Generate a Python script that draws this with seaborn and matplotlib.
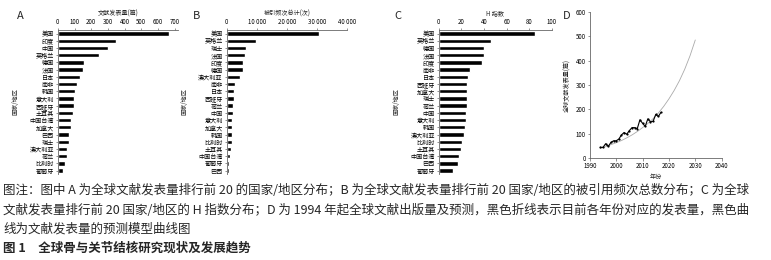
import matplotlib
matplotlib.use('Agg')
import pandas as pd
import matplotlib.pyplot as plt
import seaborn as sns

sns.set_theme(style='white')
plt.rcParams['font.family'] = ['Noto Sans CJK SC', 'DejaVu Sans']
plt.rcParams['axes.unicode_minus'] = False

# A: publications by country/region (top 20)
countries_a = ['美国', '印度', '中国', '英格兰', '德国', '法国', '日本', '南非', '韩国', '意大利',
               '西班牙', '土耳其', '中国台湾', '加拿大', '巴西', '瑞士', '澳大利亚', '荷兰', '比利时', '葡萄牙']
papers_a = [668, 349, 300, 247, 156, 152, 133, 112, 105, 97,
            95, 91, 81, 81, 66, 65, 55, 54, 45, 30]

# B: total citations
countries_b = ['美国', '英格兰', '瑞士', '法国', '印度', '德国', '澳大利亚', '南非', '日本', '西班牙',
               '荷兰', '中国', '意大利', '加拿大', '韩国', '比利时', '土耳其', '中国台湾', '葡萄牙', '巴西']
citations_b = [30600, 9700, 6400, 6200, 5500, 5300, 4400, 2800, 2500, 2300,
               2200, 2100, 1900, 1900, 1800, 1700, 1300, 1100, 800, 700]

# C: H index
countries_c = ['美国', '英格兰', '德国', '法国', '印度', '南非', '日本', '西班牙', '加拿大', '瑞士',
               '荷兰', '中国', '意大利', '韩国', '澳大利亚', '比利时', '土耳其', '中国台湾', '巴西', '葡萄牙']
h_index_c = [85, 46, 40, 40, 38, 28, 26, 25, 25, 25,
             25, 24, 24, 23, 22, 21, 20, 18, 17, 13]

# D: yearly publications and prediction model curve
years_actual = list(range(1994, 2018))
papers_actual = [44, 44, 59, 48, 64, 71, 71, 78, 95, 105, 98, 113,
                 125, 125, 121, 157, 143, 130, 161, 149, 151, 179, 171, 188]
years_model = [1994, 1996, 1998, 2000, 2002, 2004, 2006, 2008, 2010, 2012,
               2014, 2016, 2018, 2020, 2022, 2024, 2026, 2028, 2030]
papers_model = [40, 47, 55, 63, 72, 83, 95, 109, 125, 142,
                162, 185, 212, 243, 278, 318, 365, 420, 485]

caption = [
    '图注：图中 A 为全球文献发表量排行前 20 的国家/地区分布；B 为全球文献发表量排行前 20 国家/地区的被引用频次总数分布；C 为全球',
    '文献发表量排行前 20 国家/地区的 H 指数分布；D 为 1994 年起全球文献出版量及预测，黑色折线表示目前各年份对应的发表量，黑色曲',
    '线为文献发表量的预测模型曲线图',
]
fig_title = '图 1　全球骨与关节结核研究现状及发展趋势'

AXIS_COLOR = '#666666'
SMALL = 4.4


def bar_panel(ax, labels, values, xmax, ticks, ticklabels, xlabel):
    df = pd.DataFrame({'country': labels, 'value': values})
    sns.barplot(data=df, x='value', y='country', color='black', width=0.6,
                saturation=1, ax=ax)
    ax.set_xlim(0, xmax)
    ax.xaxis.tick_top()
    ax.xaxis.set_label_position('top')
    ax.set_xticks(ticks)
    ax.set_xticklabels(ticklabels)
    ax.set_xlabel(xlabel, fontsize=SMALL, labelpad=2)
    ax.set_ylabel('国家/地区', fontsize=SMALL, labelpad=7)
    for side in ['right', 'bottom']:
        ax.spines[side].set_visible(False)
    for side in ['top', 'left']:
        ax.spines[side].set_color(AXIS_COLOR)
        ax.spines[side].set_linewidth(0.6)
    ax.tick_params(axis='both', labelsize=SMALL, length=1.8, width=0.5,
                   pad=1, colors='black', color=AXIS_COLOR)
    ax.tick_params(axis='x', top=True, bottom=False)
    ax.tick_params(axis='y', left=True)


fig = plt.figure(figsize=(7.71, 2.60), dpi=100)

ax_a = fig.add_axes([0.075, 0.33, 0.156, 0.555])
bar_panel(ax_a, countries_a, papers_a, 720, range(0, 701, 100),
          [str(t) for t in range(0, 701, 100)], '文献发表量(篇)')

ax_b = fig.add_axes([0.294, 0.33, 0.156, 0.555])
bar_panel(ax_b, countries_b, citations_b, 40000, [0, 10000, 20000, 30000, 40000],
          ['0', '10 000', '20 000', '30 000', '40 000'], '被引频次总计(次)')

ax_c = fig.add_axes([0.569, 0.33, 0.147, 0.555])
bar_panel(ax_c, countries_c, h_index_c, 100, range(0, 101, 20),
          [str(t) for t in range(0, 101, 20)], 'H 指数')

ax_d = fig.add_axes([0.765, 0.392, 0.171, 0.562])
sns.lineplot(x=years_model, y=papers_model, color='#aaaaaa', linewidth=0.6, ax=ax_d)
sns.lineplot(x=years_actual, y=papers_actual, color='black', linewidth=0.8,
             marker='o', markersize=1.6, markeredgewidth=0, ax=ax_d)
ax_d.set_xlim(1990, 2040)
ax_d.set_ylim(0, 600)
ax_d.set_xticks(range(1990, 2041, 10))
ax_d.set_yticks(range(0, 601, 100))
ax_d.set_xlabel('年份', fontsize=SMALL, labelpad=2)
ax_d.set_ylabel('全球文献发表量(篇)', fontsize=SMALL, labelpad=3)
for side in ['right', 'top']:
    ax_d.spines[side].set_visible(False)
for side in ['left', 'bottom']:
    ax_d.spines[side].set_color(AXIS_COLOR)
    ax_d.spines[side].set_linewidth(0.6)
ax_d.tick_params(axis='both', labelsize=SMALL, length=1.8, width=0.5, pad=1,
                 colors='black', color=AXIS_COLOR, left=True, bottom=True)

# panel letters
for x, letter in [(0.026, 'A'), (0.255, 'B'), (0.516, 'C'), (0.735, 'D')]:
    fig.text(x, 0.94, letter, fontsize=8, va='center', ha='center')

# caption
for line, y in zip(caption, [191, 210, 229]):
    fig.text(0.004, 1 - y / 260, line, fontsize=9.0, va='center', ha='left')
fig.text(0.004, 1 - 248 / 260, fig_title, fontsize=9.0, va='center', ha='left',
         fontweight='bold')

fig.savefig('out.png', dpi=100, facecolor='white')
